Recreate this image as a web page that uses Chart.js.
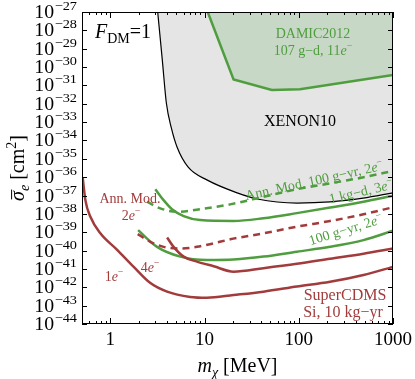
<!DOCTYPE html>
<html>
<head>
<meta charset="utf-8">
<script src="https://cdn.jsdelivr.net/npm/chart.js@4.4.1/dist/chart.umd.min.js"></script>
<style>
  html, body { margin: 0; padding: 0; background: #fff; }
  canvas { display: block; }
</style>
</head>
<body>
<canvas id="chart" width="415" height="379"></canvas>
<script>
// Limits: m_chi in MeV, sigma_e in cm^2

// XENON10 excluded region (filled up to the top)
const xenonMass  = [3.18, 3.56, 3.93, 4.44, 5.1, 6.7, 10.7, 22.2, 36.2, 96, 215, 482, 1000];
const xenonSigma = [1e-27, 2.4e-30, 1.1e-32, 4.8e-34, 4.4e-35, 3.5e-36, 6.9e-37, 1.4e-37, 6.5e-38, 3.9e-38, 4.5e-38, 7.2e-38, 1.4e-37];

// DAMIC2012 excluded region
const damicMass  = [10.8, 20.3, 51.8, 103, 1000];
const damicSigma = [1e-27, 2.1e-31, 5.6e-32, 6.2e-32, 3.7e-31];

// Green projections
const annMod100Mass  = [2.45, 3.39, 5.1, 9.0, 18.7, 42.2, 95.5, 215, 486, 1000];
const annMod100Sigma = [4.6e-38, 2.0e-38, 1.3e-38, 1.8e-38, 3.3e-38, 8.5e-38, 2.2e-37, 4.6e-37, 9.8e-37, 2.2e-36];

const kgDayMass  = [3.0, 3.67, 4.51, 6.0, 9.0, 20.3, 42.2, 95.5, 215, 486, 1000];
const kgDaySigma = [2.2e-37, 5.6e-38, 1.8e-38, 7.6e-39, 4.6e-39, 4.1e-39, 5.8e-39, 1.1e-38, 2.2e-38, 4.6e-38, 9.8e-38];

const gYearMass  = [1.97, 3.13, 5.53, 10.6, 20.3, 42.2, 95.5, 215, 486, 1000];
const gYearSigma = [1.3e-39, 1.6e-40, 4.7e-41, 3.1e-41, 3.3e-41, 4.7e-41, 8.7e-41, 1.6e-40, 3.7e-40, 1.2e-39];

// Red projections (SuperCDMS Si)
const annMod2eMass  = [1.95, 2.66, 3.67, 5.53, 8.3, 12.5, 18.7, 42.2, 95.5, 215, 486, 1000];
const annMod2eSigma = [7.9e-40, 3.0e-40, 1.6e-40, 1.3e-40, 1.6e-40, 2.5e-40, 4.1e-40, 8.7e-40, 2.0e-39, 4.1e-39, 9.5e-39, 2.3e-38];

const cdms4eMass  = [4.0, 4.69, 6.0, 8.3, 12.5, 20.3, 42.2, 95.5, 215, 486, 1000];
const cdms4eSigma = [5.2e-40, 1.6e-40, 4.7e-41, 2.5e-41, 1.4e-41, 7.1e-42, 1.1e-41, 1.9e-41, 3.6e-41, 6.8e-41, 1.3e-40];

const cdms1eMass  = [0.508, 0.543, 0.614, 0.783, 1.18, 1.77, 2.66, 4.0, 7.05, 10.6, 20.3, 42.2, 95.5, 215, 486, 1000];
const cdms1eSigma = [1.0e-36, 5.6e-38, 6.9e-39, 8.7e-40, 1.1e-40, 1.3e-41, 1.7e-42, 5.8e-43, 3.0e-43, 2.7e-43, 3.8e-43, 5.8e-43, 1.1e-42, 2.0e-42, 4.7e-42, 1.3e-41];

// Axis ticks
const yTickPowers = [-27, -28, -29, -30, -31, -32, -33, -34, -35, -36, -37, -38, -39, -40, -41, -42, -43, -44];
const xMajorTicks = [1, 10, 100, 1000];
const xMajorLabels = ['1', '10', '100', '1000'];
const xMinorTicks = [0.6, 0.7, 0.8, 0.9, 2, 3, 4, 5, 6, 7, 8, 9, 20, 30, 40, 50, 60, 70, 80, 90,
                     200, 300, 400, 500, 600, 700, 800, 900];

const GREEN = '#4f9d3f';
const RED = '#a23c3c';
const SERIF = '"Liberation Serif", "Times New Roman", serif';

function points(xs, ys) {
  return xs.map((x, i) => ({ x, y: ys[i] }));
}

function curve(xs, ys, color, opts = {}) {
  return {
    data: points(xs, ys),
    showLine: true,
    borderColor: color,
    borderWidth: 2.5,
    pointRadius: 0,
    cubicInterpolationMode: 'monotone',
    fill: false,
    clip: 0,
    order: 0,
    ...opts
  };
}

// --- rich text (italic / sub / sup / overline) ---
function segFont(s, size) {
  const sz = (s.sub || s.sup) ? size * 0.7 : size;
  return `${s.it ? 'italic ' : ''}${sz}px ${SERIF}`;
}

function richWidth(ctx, segs, size) {
  let w = 0;
  segs.forEach(s => {
    ctx.font = segFont(s, size);
    w += ctx.measureText(s.t).width;
  });
  return w;
}

function drawRich(ctx, segs, x, y, size, color, angle = 0, align = 'center') {
  ctx.save();
  ctx.translate(x, y);
  ctx.rotate(angle * Math.PI / 180);
  ctx.fillStyle = color;
  ctx.strokeStyle = color;
  ctx.textBaseline = 'alphabetic';
  ctx.textAlign = 'left';
  const w = richWidth(ctx, segs, size);
  let cx = align === 'center' ? -w / 2 : align === 'right' ? -w : 0;
  segs.forEach(s => {
    ctx.font = segFont(s, size);
    const dy = s.sub ? size * 0.25 : s.sup ? -size * 0.4 : 0;
    ctx.fillText(s.t, cx, dy);
    const tw = ctx.measureText(s.t).width;
    if (s.over) {
      ctx.lineWidth = 1;
      ctx.beginPath();
      ctx.moveTo(cx + 1.5, -size * 0.62);
      ctx.lineTo(cx + tw + 1.5, -size * 0.62);
      ctx.stroke();
    }
    cx += tw;
  });
  ctx.restore();
}

const eMinus = n => [{ t: n }, { t: 'e', it: true }, { t: '\u2212', sup: true }];

const axesAndLabels = {
  id: 'axesAndLabels',
  afterDatasetsDraw(chart) {
    const ctx = chart.ctx;

    // region labels
    drawRich(ctx, [{ t: 'F', it: true }, { t: 'DM', sub: true }, { t: '=1' }], 95, 38, 20, '#000', 0, 'left');
    drawRich(ctx, [{ t: 'DAMIC2012' }], 313, 38, 14, GREEN);
    drawRich(ctx, [{ t: '107 g\u2212d, 11' }, { t: 'e', it: true }, { t: '\u2212', sup: true }], 313, 55, 14, GREEN);
    drawRich(ctx, [{ t: 'XENON10' }], 300, 126, 16, '#000');

    drawRich(ctx, [{ t: 'Ann. Mod. 100 g\u2212yr, ' }, ...eMinus('2')], 315, 185, 14, GREEN, -12.5);
    drawRich(ctx, [{ t: '1 kg\u2212d, ' }, ...eMinus('3')], 362, 196, 14, GREEN, -13.5);
    drawRich(ctx, [{ t: '100 g\u2212yr, ' }, ...eMinus('2')], 347, 234, 14, GREEN, -17);

    drawRich(ctx, [{ t: 'Ann. Mod.' }], 130, 203, 14, RED);
    drawRich(ctx, eMinus('2'), 131, 220, 14, RED);
    drawRich(ctx, eMinus('4'), 150, 272, 14, RED);
    drawRich(ctx, eMinus('1'), 114, 281, 14, RED);
    drawRich(ctx, [{ t: 'SuperCDMS' }], 345, 300, 16, RED);
    drawRich(ctx, [{ t: 'Si, 10 kg\u2212yr' }], 343, 317, 16, RED);
  },
  afterDraw(chart) {
    const ctx = chart.ctx;
    const { left, right, top, bottom } = chart.chartArea;
    const xs = chart.scales.x;
    const ys = chart.scales.y;

    ctx.save();
    ctx.strokeStyle = '#000';
    ctx.lineWidth = 1;
    ctx.strokeRect(left + 0.5, top + 0.5, right - left - 1, bottom - top - 1);

    ctx.beginPath();
    yTickPowers.forEach(p => {
      const py = Math.round(ys.getPixelForValue(Math.pow(10, p))) + 0.5;
      ctx.moveTo(left, py); ctx.lineTo(left + 5, py);
      ctx.moveTo(right, py); ctx.lineTo(right - 5, py);
    });
    xMajorTicks.forEach(v => {
      const px = Math.round(xs.getPixelForValue(v)) + 0.5;
      ctx.moveTo(px, bottom); ctx.lineTo(px, bottom - 6);
      ctx.moveTo(px, top); ctx.lineTo(px, top + 6);
    });
    xMinorTicks.forEach(v => {
      const px = Math.round(xs.getPixelForValue(v)) + 0.5;
      ctx.moveTo(px, bottom); ctx.lineTo(px, bottom - 3);
      ctx.moveTo(px, top); ctx.lineTo(px, top + 3);
    });
    ctx.stroke();

    // y tick labels: 10^p
    ctx.fillStyle = '#000';
    ctx.textBaseline = 'alphabetic';
    yTickPowers.forEach(p => {
      const py = ys.getPixelForValue(Math.pow(10, p));
      const sup = '\u2212' + Math.abs(p);
      ctx.save();
      ctx.translate(77, py);
      ctx.scale(1.1, 1);
      ctx.textAlign = 'right';
      ctx.font = `13px ${SERIF}`;
      const sw = ctx.measureText(sup).width;
      ctx.fillText(sup, 0, -2);
      ctx.font = `18px ${SERIF}`;
      ctx.fillText('10', -sw - 0.5, 6);
      ctx.restore();
    });

    // x tick labels
    ctx.textAlign = 'center';
    ctx.font = `19px ${SERIF}`;
    xMajorTicks.forEach((v, i) => {
      ctx.fillText(xMajorLabels[i], xs.getPixelForValue(v), 345);
    });
    ctx.restore();

    // axis titles
    drawRich(ctx, [{ t: 'm', it: true }, { t: '\u03c7', it: true, sub: true }, { t: ' [MeV]' }],
      (left + right) / 2, 372, 20, '#000');
    drawRich(ctx, [{ t: '\u03c3', it: true, over: true }, { t: 'e', it: true, sub: true },
      { t: ' [cm' }, { t: '2', sup: true }, { t: ']' }],
      24, (top + bottom) / 2, 20, '#000', -90);
  }
};

new Chart(document.getElementById('chart'), {
  type: 'scatter',
  data: {
    datasets: [
      curve(cdms1eMass, cdms1eSigma, RED),
      curve(cdms4eMass, cdms4eSigma, RED),
      curve(annMod2eMass, annMod2eSigma, RED, { borderDash: [7, 5] }),
      curve(gYearMass, gYearSigma, GREEN),
      curve(kgDayMass, kgDaySigma, GREEN),
      curve(annMod100Mass, annMod100Sigma, GREEN, { borderDash: [7, 5] }),
      curve(damicMass, damicSigma, GREEN, {
        cubicInterpolationMode: 'default', tension: 0,
        fill: 'end', backgroundColor: '#c8d8c6', order: 5
      }),
      curve(xenonMass, xenonSigma, '#000', {
        borderWidth: 1.2, fill: 'end', backgroundColor: '#e5e5e5', order: 10
      })
    ]
  },
  options: {
    responsive: false,
    animation: false,
    devicePixelRatio: 1,
    layout: { padding: { left: 82, right: 22, top: 12, bottom: 55 } },
    scales: {
      x: { type: 'logarithmic', min: 0.5, max: 1000, display: false },
      y: { type: 'logarithmic', min: 1e-44, max: 1e-27, display: false }
    },
    plugins: {
      legend: { display: false },
      tooltip: { enabled: false }
    }
  },
  plugins: [axesAndLabels]
});
</script>
</body>
</html>
